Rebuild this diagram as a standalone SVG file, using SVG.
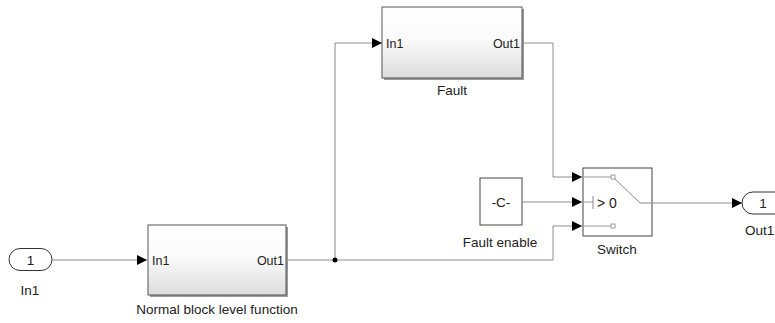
<svg xmlns="http://www.w3.org/2000/svg" width="775" height="323" viewBox="0 0 775 323">
<defs>
<linearGradient id="blk" x1="0" y1="0" x2="0" y2="1">
<stop offset="0" stop-color="#ffffff"/>
<stop offset="0.45" stop-color="#fbfbfb"/>
<stop offset="1" stop-color="#dcdcdc"/>
</linearGradient>
<marker id="arr" markerWidth="10" markerHeight="10" refX="10" refY="5" orient="auto" markerUnits="userSpaceOnUse">
<path d="M0,0 L10,5 L0,10 Z" fill="#000"/>
</marker>
</defs>
<style>
.lbl{font-family:"Liberation Sans",Arial,sans-serif;font-size:13.5px;fill:#222;text-anchor:middle}
.prt{font-family:"Liberation Sans",Arial,sans-serif;font-size:12.5px;fill:#222}
.wire{fill:none;stroke:#8c8c8c;stroke-width:1}
.box{fill:url(#blk);stroke:#555;stroke-width:1}
.shadow{fill:#9a9a9a}
.pill{fill:#fff;stroke:#333;stroke-width:1}
</style>
<rect width="775" height="323" fill="#fff"/>

<g id="connectors">
<line class="wire" x1="52" y1="260" x2="147" y2="260" marker-end="url(#arr)"/>
<polyline class="wire" points="286,260 553,260 553,226 582,226" marker-end="url(#arr)"/>
<polyline class="wire" points="335,260 335,43 382,43" marker-end="url(#arr)"/>
<polyline class="wire" points="522,43 553,43 553,177 582,177" marker-end="url(#arr)"/>
<line class="wire" x1="523" y1="202" x2="582" y2="202" marker-end="url(#arr)"/>
<line class="wire" x1="653" y1="203" x2="742" y2="203" marker-end="url(#arr)"/>
<circle cx="335" cy="260" r="2.5" fill="#000"/>
</g>

<g id="In1">
<rect class="pill" x="9" y="248.5" width="43" height="22" rx="11" ry="11"/>
<text class="lbl" x="30.5" y="264.5">1</text>
<text class="lbl" x="30" y="295">In1</text>
</g>

<g id="NormalBlock">
<rect class="shadow" x="150" y="227" width="138" height="70"/>
<rect class="box" x="148" y="225" width="138" height="70"/>
<text class="prt" x="152" y="264.5">In1</text>
<text class="prt" x="284" y="264.5" text-anchor="end">Out1</text>
<text class="lbl" x="217" y="314">Normal block level function</text>
</g>

<g id="Fault">
<rect class="shadow" x="384" y="9" width="140" height="71"/>
<rect class="box" x="382" y="7" width="140" height="71"/>
<text class="prt" x="386" y="47.5">In1</text>
<text class="prt" x="520" y="47.5" text-anchor="end">Out1</text>
<text class="lbl" x="452" y="95">Fault</text>
</g>

<g id="FaultEnable">
<rect x="480" y="178" width="42" height="47" fill="#fff" stroke="#444" stroke-width="1"/>
<text class="lbl" x="501" y="207">-C-</text>
<text class="lbl" x="500" y="247">Fault enable</text>
</g>

<g id="Switch">
<rect x="583" y="168" width="69" height="68" fill="#fff" stroke="#444" stroke-width="1"/>
<line x1="583" y1="177" x2="611" y2="177" stroke="#999"/>
<rect x="611" y="175" width="4" height="4" fill="#fff" stroke="#888" stroke-width="0.8"/>
<line x1="583" y1="226" x2="611" y2="226" stroke="#999"/>
<rect x="611" y="224" width="4" height="4" fill="#fff" stroke="#888" stroke-width="0.8"/>
<polyline points="615,179 640,203 652,203" fill="none" stroke="#888"/>
<line x1="583" y1="202" x2="593" y2="202" stroke="#999"/>
<line x1="593" y1="196" x2="593" y2="209" stroke="#888"/>
<text class="prt" x="597" y="207.5" style="font-size:14px">&gt; 0</text>
<text class="lbl" x="617" y="254">Switch</text>
</g>

<g id="Out1">
<rect class="pill" x="742" y="192" width="50" height="22" rx="11" ry="11"/>
<text class="lbl" x="763" y="207.5">1</text>
<text class="lbl" x="745" y="235" style="text-anchor:start">Out1</text>
</g>
</svg>
